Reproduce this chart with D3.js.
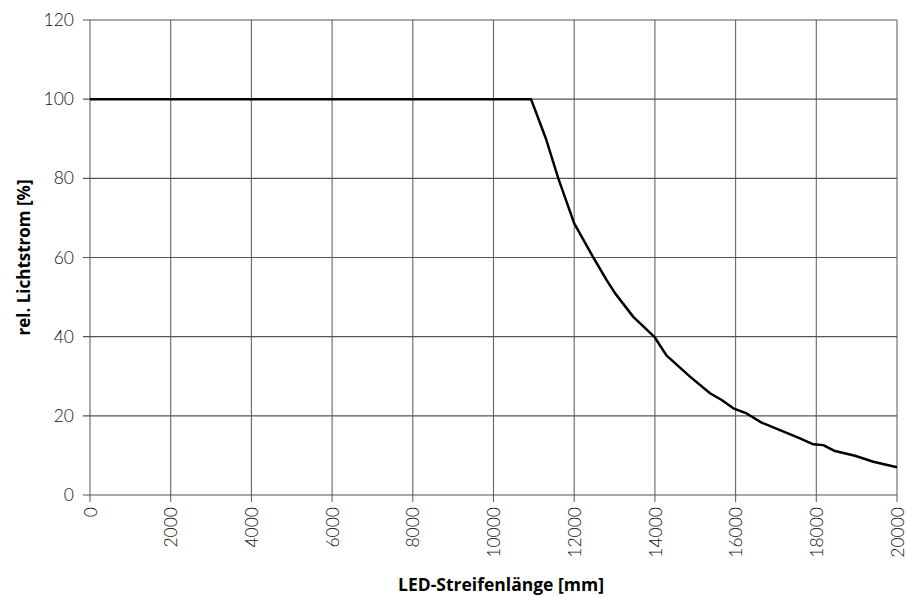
<!DOCTYPE html>
<html>
<head>
<meta charset="utf-8">
<script src="https://cdn.jsdelivr.net/npm/d3@7"></script>
<style>
  body { margin: 0; background: #fff; }
  svg { display: block; }
</style>
</head>
<body>
<svg></svg>
<script>
"use strict";

// Werte
const laenge = [0, 10930, 11300, 11606, 12000, 12474, 12805, 13011, 13465, 14000, 14150, 14291, 14870, 15366, 15655, 15943, 16273, 16645, 17100, 17596, 17926, 18174, 18463, 18959, 19413, 20000];
const lichtstrom = [100, 100, 90, 80, 68.6, 60, 54.3, 51, 45, 39.8, 37.4, 35.2, 29.9, 25.7, 24, 21.9, 20.6, 18.3, 16.4, 14.3, 12.8, 12.6, 11.1, 9.9, 8.4, 7];
const xTicks = [0, 2000, 4000, 6000, 8000, 10000, 12000, 14000, 16000, 18000, 20000];
const yTicks = [0, 20, 40, 60, 80, 100, 120];

const width = 907;
const height = 598;
const margin = { left: 90, right: 10, top: 20, bottom: 103 };

const svg = d3.select("svg").attr("width", width).attr("height", height);

const xScale = d3.scaleLinear().domain([0, 20000]).range([margin.left, width - margin.right]);
const yScale = d3.scaleLinear().domain([0, 120]).range([height - margin.bottom, margin.top]);

const fontTick = "Lato, 'Open Sans', sans-serif";
const fontTitle = "'Open Sans', sans-serif";

// Gitter
svg.append("g")
  .selectAll("line")
  .data(xTicks)
  .enter()
  .append("line")
  .attr("x1", (d) => xScale(d))
  .attr("x2", (d) => xScale(d))
  .attr("y1", yScale(120))
  .attr("y2", yScale(0) + 7)
  .attr("stroke", "#666")
  .attr("stroke-width", 1.1);

svg.append("g")
  .selectAll("line")
  .data(yTicks)
  .enter()
  .append("line")
  .attr("x1", xScale(0) - 7)
  .attr("x2", xScale(20000))
  .attr("y1", (d) => yScale(d))
  .attr("y2", (d) => yScale(d))
  .attr("stroke", "#555")
  .attr("stroke-width", 1.1);

// Achsen (nur Beschriftung)
const xAxis = d3.axisBottom(xScale).tickValues(xTicks).tickFormat(d3.format("d")).tickSize(0);
const yAxis = d3.axisLeft(yScale).tickValues(yTicks).tickSize(0);

const gx = svg.append("g")
  .attr("transform", `translate(0,${yScale(0)})`)
  .call(xAxis);
gx.select(".domain").remove();
gx.selectAll("text")
  .attr("transform", "rotate(-90)")
  .attr("x", -12)
  .attr("y", 0)
  .attr("dy", "0.35em")
  .style("text-anchor", "end")
  .style("font-family", fontTick)
  .style("font-weight", 300)
  .style("font-size", "17.5px")
  .style("fill", "#111");

const gy = svg.append("g")
  .attr("transform", `translate(${xScale(0)},0)`)
  .call(yAxis);
gy.select(".domain").remove();
gy.selectAll("text")
  .attr("x", -16)
  .style("font-family", fontTick)
  .style("font-weight", 300)
  .style("font-size", "17.5px")
  .style("fill", "#111");

// Kurve
const line = d3.line()
  .x((d, i) => xScale(laenge[i]))
  .y((d) => yScale(d));

svg.append("path")
  .datum(lichtstrom)
  .attr("d", line)
  .attr("fill", "none")
  .attr("stroke", "#000")
  .attr("stroke-width", 2.5)
  .attr("stroke-linejoin", "round");

// Achsentitel
svg.append("text")
  .attr("x", 501)
  .attr("y", 591)
  .attr("text-anchor", "middle")
  .style("font-family", fontTitle)
  .style("font-weight", "bold")
  .style("font-size", "17.5px")
  .text("LED-Streifenlänge [mm]");

svg.append("text")
  .attr("transform", `translate(30,${yScale(60)}) rotate(-90)`)
  .attr("text-anchor", "middle")
  .style("font-family", fontTitle)
  .style("font-weight", "bold")
  .style("font-size", "17px")
  .text("rel. Lichtstrom [%]");
</script>
</body>
</html>
